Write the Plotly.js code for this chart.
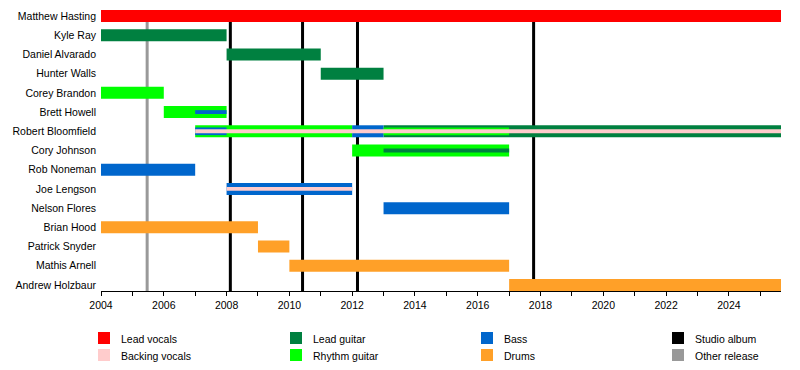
<!DOCTYPE html>
<html><head><meta charset="utf-8">
<script src="https://cdn.plot.ly/plotly-3.0.1.min.js"></script>
<style>html,body{margin:0;padding:0;background:#fff}#chart{width:800px;height:370px}</style>
</head><body><div id="chart"></div>
<script>
// ---------------- data ----------------
const members = ["Matthew Hasting","Kyle Ray","Daniel Alvarado","Hunter Walls","Corey Brandon","Brett Howell","Robert Bloomfield","Cory Johnson","Rob Noneman","Joe Lengson","Nelson Flores","Brian Hood","Patrick Snyder","Mathis Arnell","Andrew Holzbaur"];
const startDate = 2004;
const endDate = 2025.66;
// [member, start, end, role rank: 1 = main role, 2 = second role, 3 = third role]
const leadVocals = [["Matthew Hasting", 2004, endDate, 1]];
const backingVocals = [["Robert Bloomfield", 2007, endDate, 3], ["Joe Lengson", 2008, 2012, 3]];
const leadGuitar = [["Kyle Ray", 2004, 2008, 1], ["Daniel Alvarado", 2008, 2011, 1], ["Hunter Walls", 2011, 2013, 1], ["Robert Bloomfield", 2013, endDate, 1], ["Cory Johnson", 2013, 2017, 3]];
const rhythmGuitar = [["Corey Brandon", 2004, 2006, 1], ["Brett Howell", 2006, 2008, 1], ["Robert Bloomfield", 2007, 2012, 1], ["Robert Bloomfield", 2013, 2017, 2], ["Cory Johnson", 2012, 2017, 1]];
const bass = [["Rob Noneman", 2004, 2007, 1], ["Joe Lengson", 2008, 2012, 1], ["Nelson Flores", 2013, 2017, 1], ["Robert Bloomfield", 2012, 2013, 1], ["Robert Bloomfield", 2007, 2008, 2], ["Brett Howell", 2007, 2008, 3]];
const drums = [["Brian Hood", 2004, 2009, 1], ["Patrick Snyder", 2009, 2010, 1], ["Mathis Arnell", 2010, 2017, 1], ["Andrew Holzbaur", 2017, endDate, 1]];
const studioAlbums = [2008.12, 2010.42, 2012.17, 2017.78];
const otherReleases = [2005.47];
const xTickYears = [2004, 2006, 2008, 2010, 2012, 2014, 2016, 2018, 2020, 2022, 2024];
const legendLabels = ["Lead vocals", "Backing vocals", "Lead guitar", "Rhythm guitar", "Bass", "Drums", "Studio album", "Other release"];

// ---------------- styles ----------------
const C = {
  "Lead vocals": "#ff0000", "Backing vocals": "#ffcccc", "Lead guitar": "#008040",
  "Rhythm guitar": "#00ff00", "Bass": "#0066cc", "Drums": "#ffa028",
  "Studio album": "#000000", "Other release": "#999999"
};
const roles = [
  ["Lead vocals", leadVocals], ["Backing vocals", backingVocals], ["Lead guitar", leadGuitar],
  ["Rhythm guitar", rhythmGuitar], ["Bass", bass], ["Drums", drums]
];
const rankWidth = {1: 0.625, 2: 0.4, 3: 0.2};

const traces = [];
[1, 2, 3].forEach(rank => {
  roles.forEach(([name, segs]) => {
    const s = segs.filter(d => d[3] === rank);
    if (!s.length) return;
    traces.push({
      type: "bar", orientation: "h", name: name,
      y: s.map(d => d[0]), base: s.map(d => d[1]), x: s.map(d => d[2] - d[1]),
      width: rankWidth[rank],
      marker: {color: C[name], line: {width: 0}},
      showlegend: false, hoverinfo: "skip"
    });
  });
});

// geometry (pixels)
const W = 800, H = 370, L = 101, R = 19, T = 10, B = 79;
const PW = W - L - R, PH = H - T - B;
const px2x = p => (p - L) / PW;
const px2y = p => (H - B - p) / PH;

const shapes = [];
studioAlbums.forEach(d => shapes.push({type: "line", xref: "x", yref: "paper", x0: d, x1: d, y0: 0, y1: 1, layer: "below", line: {color: C["Studio album"], width: 3}}));
otherReleases.forEach(d => shapes.push({type: "line", xref: "x", yref: "paper", x0: d, x1: d, y0: 0, y1: 1, layer: "below", line: {color: C["Other release"], width: 3}}));

const annotations = [];
const colLeft = [98, 290, 481, 672];
const rowTop = [332, 349];
legendLabels.forEach((lab, i) => {
  const col = Math.floor(i / 2), row = i % 2;
  const x0 = colLeft[col], y0 = rowTop[row];
  shapes.push({type: "rect", xref: "paper", yref: "paper", x0: px2x(x0), x1: px2x(x0 + 12), y0: px2y(y0 + 12), y1: px2y(y0), fillcolor: C[lab], line: {width: 0}});
  annotations.push({xref: "paper", yref: "paper", x: px2x(x0 + 21), y: px2y(y0 + 7), xanchor: "left", yanchor: "middle", text: lab, showarrow: false, font: {size: 10.5, color: "#000"}});
});

const layout = {
  width: W, height: H,
  margin: {l: L, r: R, t: T, b: B, pad: 0},
  barmode: "overlay", showlegend: false,
  paper_bgcolor: "#ffffff", plot_bgcolor: "#ffffff",
  font: {family: "Liberation Sans, Arial, sans-serif", size: 10.5, color: "#000"},
  xaxis: {
    range: [startDate, endDate], tickvals: xTickYears, ticktext: xTickYears.map(String),
    ticks: "outside", ticklen: 4, tickwidth: 1, tickcolor: "#000",
    minor: {dtick: 1, tick0: 2004, ticks: "outside", ticklen: 4, tickcolor: "#000", showgrid: false},
    showgrid: false, zeroline: false, showline: true, linecolor: "#000", linewidth: 1, fixedrange: true
  },
  yaxis: {
    type: "category", categoryorder: "array", categoryarray: members,
    range: [members.length - 1 + 0.3125, -0.3125],
    showgrid: false, zeroline: false, showline: false, ticks: "", ticklabelstandoff: 4, fixedrange: true
  },
  shapes: shapes, annotations: annotations
};

Plotly.newPlot("chart", traces, layout, {displayModeBar: false, staticPlot: true});
</script>
</body></html>
